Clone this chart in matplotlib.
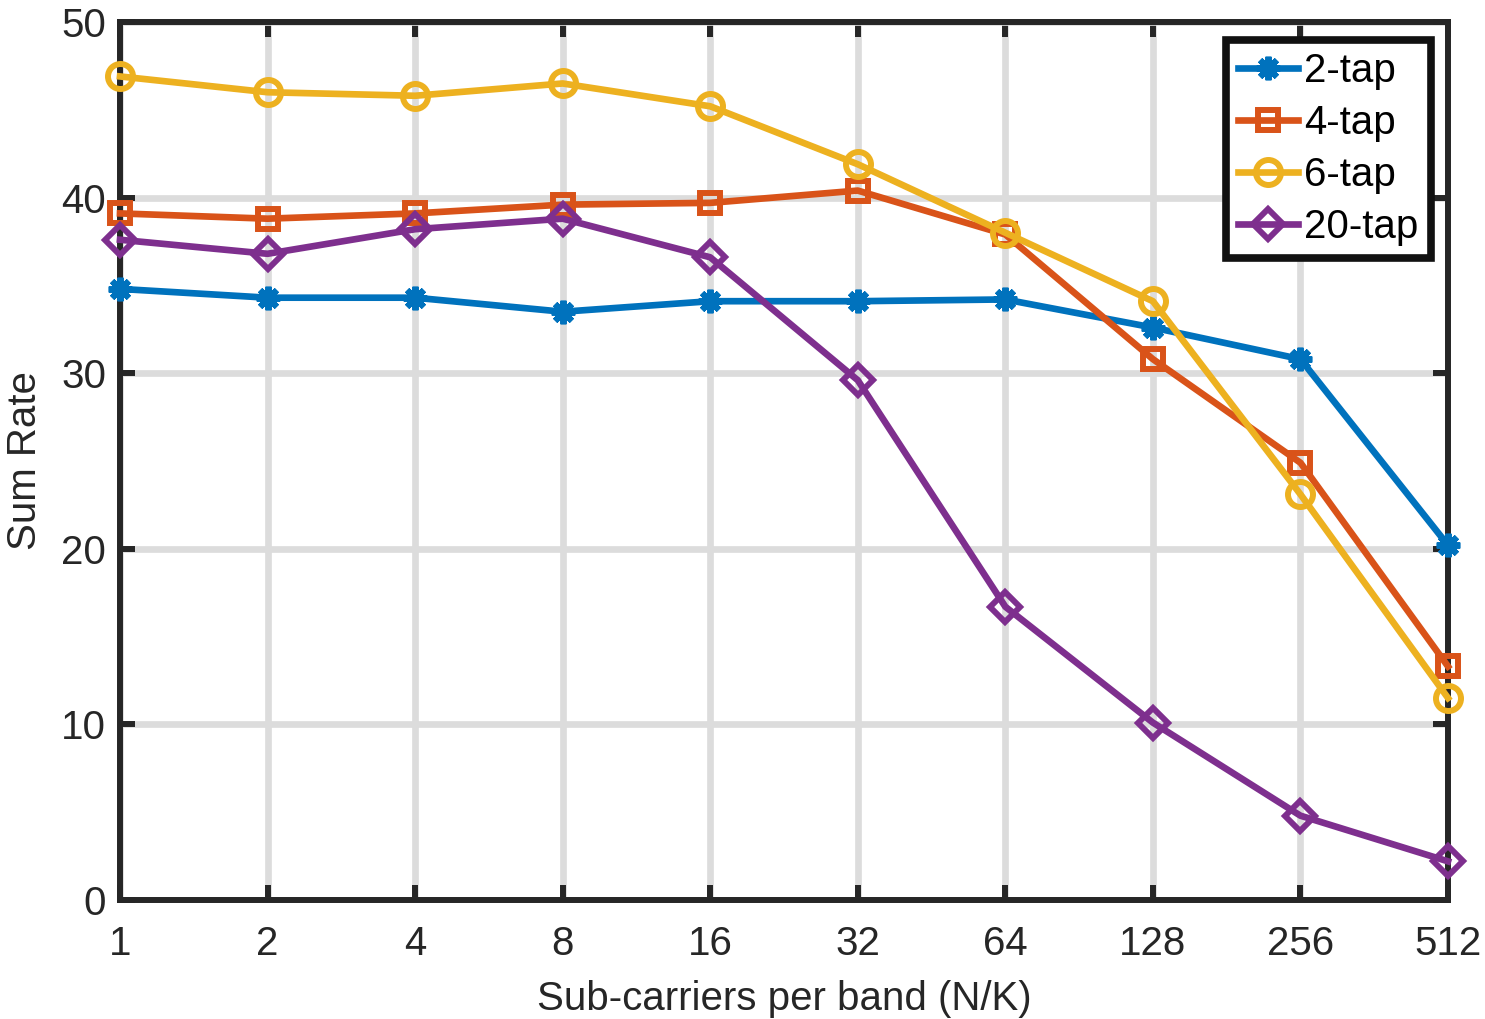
import matplotlib
matplotlib.use("Agg")
import matplotlib.pyplot as plt

plt.rcParams['font.family'] = ['Liberation Sans', 'DejaVu Sans']

subcarriers = [1, 2, 4, 8, 16, 32, 64, 128, 256, 512]
tick_labels = ['1', '2', '4', '8', '16', '32', '64', '128', '256', '512']
tap2 = [34.8, 34.3, 34.3, 33.5, 34.1, 34.1, 34.2, 32.6, 30.8, 20.2]
tap4 = [39.1, 38.8, 39.1, 39.6, 39.7, 40.4, 37.9, 30.8, 24.9, 13.3]
tap6 = [46.9, 46.0, 45.8, 46.5, 45.2, 41.9, 38.0, 34.1, 23.1, 11.5]
tap20 = [37.6, 36.8, 38.2, 38.8, 36.6, 29.6, 16.7, 10.1, 4.8, 2.2]

series = [
    ('2-tap', tap2, '#0072BD', (8, 2, 0), 17),
    ('4-tap', tap4, '#D95319', 's', 15),
    ('6-tap', tap6, '#EDB120', 'o', 18),
    ('20-tap', tap20, '#7E2F8E', 'D', 15),
]

fig = plt.figure(figsize=(14.85, 10.19), dpi=100)
ax = fig.add_axes([0.0808, 0.1168, 0.9751 - 0.0808, 0.9784 - 0.1168])

for label, vals, col, mk, ms in series:
    ax.plot(subcarriers, vals, color=col, lw=4.8, marker=mk, ms=ms,
            mew=4.3, mfc='none' if mk != (8, 2, 0) else col, mec=col,
            label=label, clip_on=False, zorder=3)

ax.set_xscale('log', base=2)
ax.set_xlim(1, 512)
ax.set_ylim(0, 50)
ax.set_xticks(subcarriers)
ax.set_xticklabels(tick_labels)
ax.minorticks_off()
ax.set_yticks([0, 10, 20, 30, 40, 50])

ax.grid(True, color='#dcdcdc', lw=4.8, zorder=0)
ax.set_axisbelow(True)
for sp in ax.spines.values():
    sp.set_linewidth(4.3)
    sp.set_color('#262626')
    sp.set_zorder(2.5)

ax.tick_params(axis='both', direction='in', length=11, width=4.3, color='#262626',
               labelsize=29, top=True, right=True, labelcolor='#262626')
ax.tick_params(axis='x', pad=18)
ax.tick_params(axis='y', pad=10)

ax.set_xlabel('Sub-carriers per band (N/K)', fontsize=29, color='#262626', labelpad=12)
ax.set_ylabel('Sum Rate', fontsize=29, color='#262626', labelpad=12)

leg = ax.legend(loc='upper right', bbox_to_anchor=(0.987, 0.98), fontsize=29,
                fancybox=False, framealpha=1, edgecolor='#111111',
                handlelength=1.5, handletextpad=0.15, borderpad=0.3,
                labelspacing=0.35, borderaxespad=0)
leg.get_frame().set_linewidth(5.5)
leg.set_zorder(5)

fig.savefig('out.png', dpi=100)
